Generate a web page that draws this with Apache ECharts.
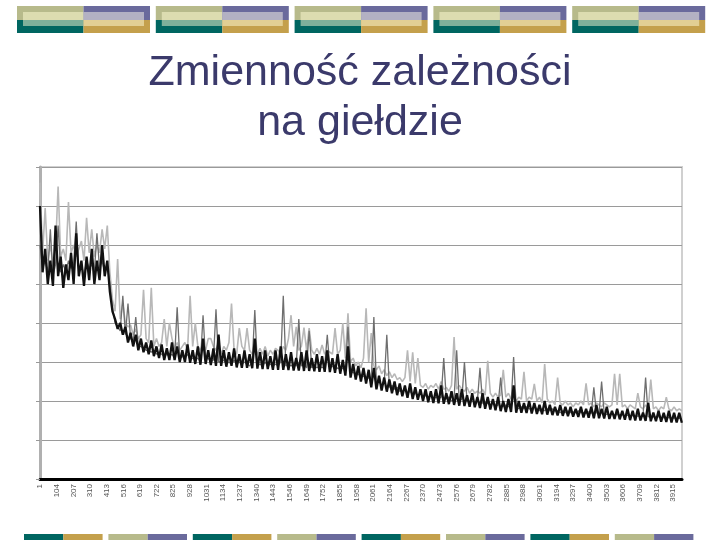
<!DOCTYPE html>
<html><head><meta charset="utf-8">
<script src="https://cdn.jsdelivr.net/npm/echarts@6/dist/echarts.min.js"></script>
<style>html,body{margin:0;padding:0;background:#fff}#c{width:720px;height:540px}</style>
</head><body><div id="c"></div>
<script>
const titleText = 'Zmienność zależności\nna giełdzie';
const categoryCount = 3970;
const tickLabels = ['1','104','207','310','413','516','619','722','825','928','1031','1134','1237','1340','1443','1546','1649','1752','1855','1958','2061','2164','2267','2370','2473','2576','2679','2782','2885','2988','3091','3194','3297','3400','3503','3606','3709','3812','3915'];

const sampleStep = 16;
const blackValues = [
7.0,5.3,5.9,5.0,5.6,4.95,6.5,5.2,5.7,4.9,
5.5,5.1,5.8,5.0,6.3,5.2,5.6,4.95,5.7,5.1,
5.9,5.0,5.6,5.1,6.0,5.2,5.6,4.8,4.3,4.1,
3.85,4.0,3.7,3.9,3.5,3.75,3.4,3.7,3.3,3.6,
3.25,3.5,3.2,3.55,3.15,3.4,3.1,3.45,3.05,3.35,
3.05,3.5,3.05,3.4,3.0,3.3,3.0,3.45,2.98,3.3,
2.95,3.4,2.93,3.6,2.95,3.3,2.92,3.35,2.9,3.7,
2.9,3.3,2.88,3.25,2.9,3.35,2.86,3.2,2.85,3.3,
2.85,3.2,2.84,3.6,2.83,3.25,2.82,3.3,2.82,3.15,
2.8,3.3,2.8,3.4,2.8,3.2,2.79,3.25,2.78,3.1,
2.78,3.25,2.77,3.3,2.77,3.1,2.76,3.2,2.75,3.15,
2.75,3.3,2.74,3.1,2.72,3.2,2.7,3.05,2.65,3.4,
2.6,2.95,2.55,2.9,2.5,2.85,2.45,2.8,2.35,2.85,
2.3,2.65,2.27,2.6,2.24,2.55,2.2,2.5,2.15,2.45,
2.12,2.4,2.08,2.45,2.05,2.35,2.03,2.3,2.0,2.3,
1.97,2.25,1.95,2.3,1.94,2.4,1.93,2.2,1.92,2.25,
1.9,2.2,1.88,2.3,1.87,2.15,1.85,2.2,1.84,2.1,
1.82,2.2,1.8,2.1,1.78,2.05,1.76,2.1,1.74,2.0,
1.72,2.05,1.72,2.4,1.7,2.0,1.7,1.95,1.69,2.0,
1.68,1.95,1.67,1.9,1.66,2.0,1.65,1.9,1.64,1.85,
1.63,1.9,1.62,1.85,1.61,1.85,1.6,1.8,1.59,1.85,
1.58,1.8,1.57,1.85,1.56,1.9,1.56,1.8,1.55,1.85,
1.54,1.75,1.54,1.8,1.53,1.75,1.52,1.8,1.51,1.75,
1.5,1.8,1.5,1.7,1.49,1.95,1.48,1.7,1.48,1.75,
1.47,1.7,1.46,1.75,1.45,1.7,1.45,1.7,1.44
];
const lightGrayValues = [
7.6,5.8,6.95,5.6,6.0,5.5,5.9,7.5,5.7,5.9,
5.6,7.1,5.8,6.0,5.7,5.9,6.1,5.6,6.7,5.8,
6.4,5.7,6.0,5.8,6.4,5.9,6.5,5.3,4.6,4.3,
5.64,4.1,4.5,4.0,3.9,3.95,3.7,3.85,3.6,3.7,
4.85,3.6,3.5,4.9,3.4,3.6,3.4,3.5,4.1,3.4,
4.0,3.6,3.35,3.5,3.3,3.4,3.5,3.3,4.7,3.4,
4.0,3.4,3.3,3.5,3.3,3.6,3.6,3.4,3.3,3.5,
3.2,3.4,3.3,3.5,4.5,3.3,3.2,3.87,3.4,3.3,
3.87,3.3,3.2,3.4,3.2,3.35,3.2,3.4,3.15,3.3,
3.2,3.35,3.3,3.2,3.4,3.3,3.6,4.2,3.4,3.9,
3.3,3.4,3.88,3.3,3.87,3.3,3.2,3.35,3.2,3.44,
3.2,3.3,3.25,3.2,3.87,3.2,3.3,4.0,3.1,4.25,
3.0,3.1,2.9,3.0,2.85,3.1,4.38,3.0,3.74,2.9,
2.8,2.9,2.7,2.8,2.65,2.75,2.6,2.7,2.55,2.6,
2.5,2.6,3.3,2.5,3.25,2.45,3.1,2.4,2.35,2.45,
2.3,2.4,2.35,2.45,2.3,2.5,2.3,2.35,2.25,2.4,
3.64,2.3,2.4,2.3,2.25,2.35,2.2,2.3,2.2,2.25,
2.2,2.3,2.15,3.03,2.2,2.1,2.2,2.1,2.15,2.8,
2.1,2.2,2.05,2.15,2.0,2.1,2.05,2.75,2.0,2.1,
2.05,2.44,2.0,2.1,1.95,2.95,2.05,1.95,2.0,1.9,
2.6,1.95,1.9,2.0,1.9,1.95,1.85,1.95,1.9,2.0,
1.9,2.45,1.9,1.95,1.85,1.95,1.9,1.85,1.95,1.9,
1.85,1.9,2.7,1.9,2.7,1.85,1.9,1.8,1.9,1.85,
1.8,2.2,1.85,1.8,1.9,1.8,2.55,1.8,1.85,1.75,
1.85,1.8,2.1,1.8,1.75,1.85,1.75,1.8,1.75
];
const darkGrayValues = [
6.0,5.4,5.6,5.3,6.4,5.2,5.5,6.5,5.3,5.5,
5.3,5.6,5.4,5.5,6.6,5.3,5.5,5.2,5.6,5.4,
5.5,5.3,6.3,5.4,5.6,5.3,5.5,5.0,4.4,4.0,
3.9,3.8,4.7,3.7,4.5,3.6,3.5,4.15,3.4,3.4,
3.35,3.3,3.3,3.25,3.3,3.2,3.25,3.2,3.15,3.2,
3.15,3.2,3.1,4.4,3.1,3.15,3.1,3.2,3.05,3.1,
3.05,3.1,3.0,4.2,3.05,3.1,3.0,3.05,4.35,3.0,
3.0,3.05,2.95,3.0,2.95,3.05,2.95,3.0,2.95,3.0,
2.95,2.9,3.0,4.33,2.9,2.95,2.9,3.0,2.9,2.95,
2.9,2.95,2.9,3.0,4.7,2.9,2.95,2.9,2.95,2.9,
4.1,2.9,2.95,2.85,3.8,2.85,2.9,2.85,2.9,2.85,
2.9,3.7,2.85,2.9,2.8,2.85,2.8,2.85,2.75,3.9,
2.7,2.75,2.65,2.7,2.6,2.65,2.55,2.6,2.5,4.15,
2.45,2.5,2.4,2.45,3.7,2.35,2.4,2.3,2.35,2.25,
2.25,2.3,2.2,2.25,2.15,2.2,2.15,2.2,2.1,2.15,
2.1,2.15,2.05,2.1,2.05,2.1,3.1,2.05,2.1,2.0,
2.05,3.3,2.0,2.05,3.0,2.0,1.95,2.0,1.95,2.0,
2.85,1.95,1.9,1.95,1.9,1.95,1.85,1.9,2.6,1.85,
1.9,1.85,1.9,3.13,1.85,1.8,1.85,1.8,1.85,1.8,
1.8,1.85,1.8,1.75,1.8,1.75,1.8,1.75,1.8,1.75,
1.75,1.7,1.75,1.7,1.75,1.7,1.72,1.7,1.75,1.7,
1.7,1.68,1.72,1.68,2.35,1.7,1.66,2.5,1.68,1.66,
1.65,1.68,1.64,1.66,1.64,1.65,1.62,1.64,1.62,1.63,
1.6,1.62,1.6,1.62,2.6,1.6,1.58,1.6,1.58,1.6,
1.57,1.58,1.56,1.58,1.55,1.57,1.55,1.56,1.54
];

const categories = Array.from({length: categoryCount}, (_, i) => String(i + 1));
const toPairs = (vals, step) => vals.map((v, i) => [i * step, v]);

// decorative slide bars
const TEAL = '#006661', GOLD = '#c4a04c', OLIVE = '#b7ba8b', PURPLE = '#6a6a9c';
const graphics = [];
for (let g = 0; g < 5; g++) {
  const x0 = 17 + 138.8 * g, w = 133, half = 66.5;
  graphics.push(
    {type:'rect', shape:{x:x0, y:6, width:half, height:14}, style:{fill:OLIVE}},
    {type:'rect', shape:{x:x0+half, y:6, width:w-half, height:14}, style:{fill:PURPLE}},
    {type:'rect', shape:{x:x0, y:20, width:half, height:13}, style:{fill:TEAL}},
    {type:'rect', shape:{x:x0+half, y:20, width:w-half, height:13}, style:{fill:GOLD}},
    {type:'rect', shape:{x:x0+6, y:12, width:half-6, height:8}, style:{fill:'#dcdcb0'}},
    {type:'rect', shape:{x:x0+half, y:12, width:w-half-6, height:8}, style:{fill:'#b3b1c3'}},
    {type:'rect', shape:{x:x0+6, y:20, width:half-6, height:6}, style:{fill:'#7fb09b'}},
    {type:'rect', shape:{x:x0+half, y:20, width:w-half-6, height:6}, style:{fill:'#e2cf94'}}
  );
}
for (let p = 0; p < 8; p++) {
  const x0 = 24 + 84.4 * p;
  const c1 = p % 2 === 0 ? TEAL : OLIVE, c2 = p % 2 === 0 ? GOLD : PURPLE;
  graphics.push(
    {type:'rect', shape:{x:x0, y:534, width:39.3, height:6}, style:{fill:c1}},
    {type:'rect', shape:{x:x0+39.3, y:534, width:39.3, height:6}, style:{fill:c2}}
  );
}

const chart = echarts.init(document.getElementById('c'), null, {renderer:'canvas'});
chart.setOption({
  animation: false,
  backgroundColor: '#ffffff',
  title: {
    text: titleText, left: 'center', top: 43,
    textStyle: {fontFamily: 'Liberation Sans, Arial, sans-serif', fontSize: 43, fontWeight: 'normal', color: '#3b3a6b', lineHeight: 50}
  },
  graphic: graphics,
  grid: {left: 40, right: 38, top: 167, bottom: 61, show: true, borderColor: '#d0d0d0', borderWidth: 2},
  xAxis: {
    type: 'category', data: categories, boundaryGap: false,
    axisLine: {lineStyle: {color: '#000', width: 3}},
    axisTick: {show: false},
    axisLabel: {
      interval: (idx, val) => tickLabels.includes(val),
      rotate: 90, fontSize: 8, color: '#555', margin: 5,
      fontFamily: 'Liberation Sans Narrow, Liberation Sans, sans-serif'
    },
    splitLine: {show: false}
  },
  yAxis: {
    type: 'value', min: 0, max: 8, interval: 1,
    axisLine: {show: true, lineStyle: {color: '#b0b0b0', width: 3}},
    axisTick: {show: true, length: 4, lineStyle: {color: '#999'}},
    axisLabel: {show: false},
    splitLine: {lineStyle: {color: '#9a9a9a', width: 1}}
  },
  series: [
    {type:'line', data: toPairs(lightGrayValues, sampleStep), showSymbol:false, sampling:'none', lineStyle:{color:'#b8b8b8', width:1.6}, z:2},
    {type:'line', data: toPairs(darkGrayValues, sampleStep), showSymbol:false, sampling:'none', lineStyle:{color:'#6e6e6e', width:1.3}, z:3},
    {type:'line', data: toPairs(blackValues, sampleStep), showSymbol:false, sampling:'none', lineStyle:{color:'#111', width:2.3, join:'bevel'}, z:4}
  ]
});
</script>
</body></html>
